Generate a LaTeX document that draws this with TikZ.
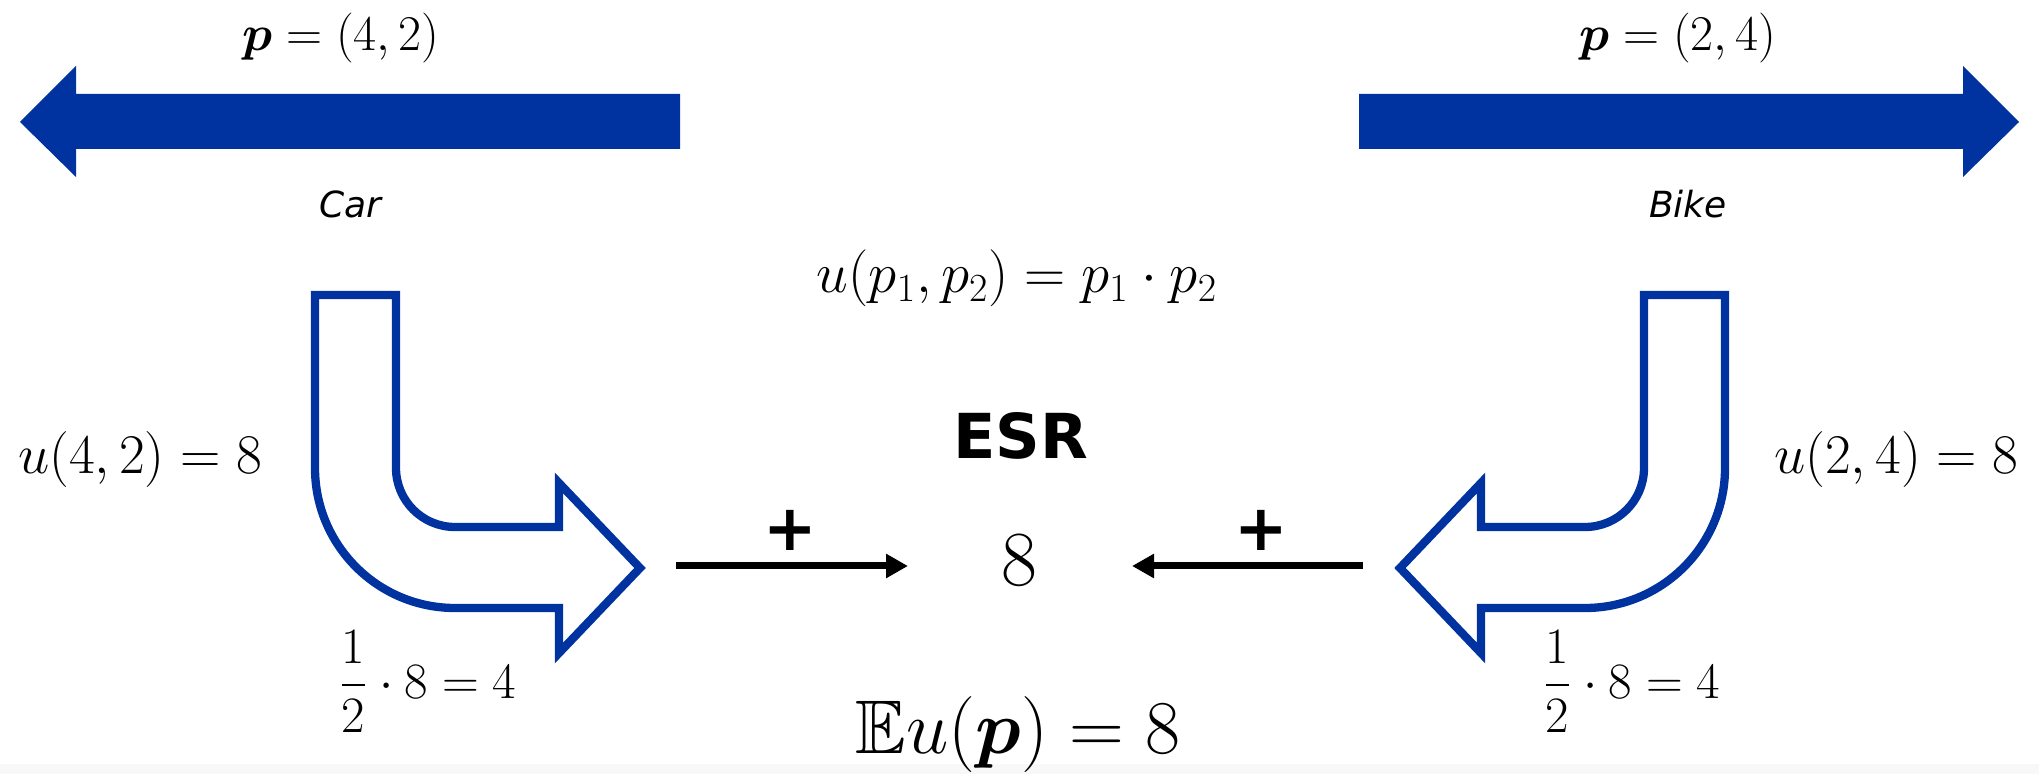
\RequirePackage{fix-cm}
\documentclass[tikz,border=0pt]{standalone}
\usepackage{amsmath,amssymb}
\usepackage[no-math]{fontspec}
\newfontfamily\dvsans{DejaVu Sans}
\usetikzlibrary{arrows.meta}
\definecolor{esrblue}{RGB}{0,51,160}
\definecolor{bandgray}{RGB}{248,248,248}
\newcommand{\fsz}[1]{\fontsize{#1}{#1}\selectfont}
\tikzset{
  fatarrow/.style={fill=esrblue},
  bentarrow/.style={draw=esrblue, line width=4.15pt, fill=white, line join=miter},
  lab/.style={inner sep=0pt, anchor=base},
  conn/.style={line width=3.5pt, -{Triangle[length=11pt,width=11.5pt]}},
  plussign/.style={inner sep=0pt, font=\dvsans\bfseries\fsz{32}},
  itlab/.style={inner sep=0pt, font=\dvsans\itshape\fsz{18}}
}
\begin{document}
\begin{tikzpicture}[x=0.5pt,y=-0.5pt]
\clip (0,0) rectangle (2039,774);
\useasboundingbox (0,0) rectangle (2039,774);
\fill[white] (0,0) rectangle (2039,774);
\fill[bandgray] (0,764) rectangle (2039,774);

% big filled arrows
\fill[fatarrow] (20,122) -- (76,66) -- (76,94) -- (680,94) -- (680,149) -- (76,149) -- (76,177) -- cycle;
\fill[fatarrow] (2019,122) -- (1963,66) -- (1963,94) -- (1359,94) -- (1359,149) -- (1963,149) -- (1963,177) -- cycle;

% bent outline arrows
\draw[bentarrow] (315,295) -- (396,295) -- (396,468) .. controls (396,500.6) and (422.4,527) .. (455,527) -- (559,527) -- (559,483) -- (640,568) -- (559,653) -- (559,608) -- (455,608) .. controls (377.7,608) and (315,545.3) .. (315,468) -- cycle;
\draw[bentarrow] (1725,295) -- (1644,295) -- (1644,468) .. controls (1644,500.6) and (1617.6,527) .. (1585,527) -- (1481,527) -- (1481,483) -- (1400,568) -- (1481,653) -- (1481,608) -- (1585,608) .. controls (1662.3,608) and (1725,545.3) .. (1725,468) -- cycle;

% labels top
\node[lab, font=\fsz{25}] (pcar) at (341,51) {$\boldsymbol{p}=(4,2)$};
\node[lab, font=\fsz{25}] (pbike) at (1678,51) {$\boldsymbol{p}=(2,4)$};
\node[itlab] (car) at (350,204) {Car};
\node[itlab] (bike) at (1688,204) {Bike};

\node[lab, font=\fsz{28.5}] (util) at (1017,293) {$u(p_1,p_2)=p_1\cdot p_2$};
\node[inner sep=0pt, font=\dvsans\bfseries\fsz{31}] (esr) at (1021,436) {ESR};

\node[lab, font=\fsz{28}] (ucar) at (140,474) {$u(4,2)=8$};
\node[lab, font=\fsz{28}] (ubike) at (1896,474) {$u(2,4)=8$};

\node[lab, font=\fsz{25.5}] (hcar) at (428,698) {$\dfrac{1}{2}\cdot 8=4$};
\node[lab, font=\fsz{25.5}] (hbike) at (1632,698) {$\dfrac{1}{2}\cdot 8=4$};

\node[lab, font=\fsz{39}] (total) at (1019.5,585) {$8$};
\node[lab, font=\fsz{38}] (eu) at (1018,753) {$\mathbb{E}u(\boldsymbol{p})=8$};

% plus connectors
\coordinate (la) at (676,566);
\coordinate (lb) at (908,566);
\coordinate (ra) at (1363,566);
\coordinate (rb) at (1132,566);
\draw[conn] (la) -- (lb);
\draw[conn] (ra) -- (rb);
\node[plussign] (pl) at (790,530) {+};
\node[plussign] (pr) at (1261,530) {+};
\end{tikzpicture}
\end{document}
